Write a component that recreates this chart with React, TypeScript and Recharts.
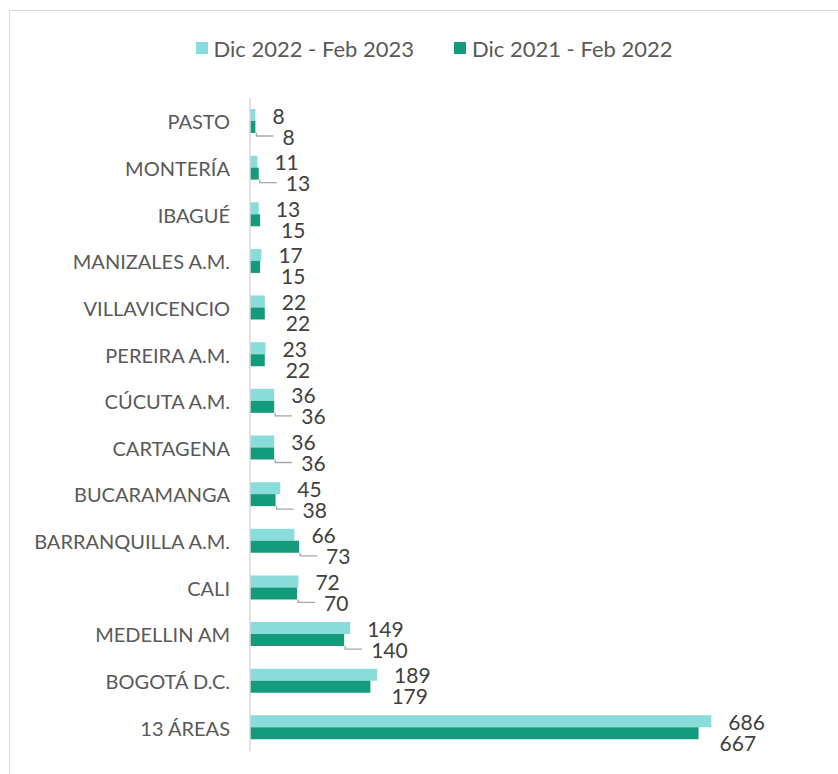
import { BarChart, Bar, XAxis, YAxis, Legend, LabelList } from "recharts";

const categories = [
  "PASTO",
  "MONTERÍA",
  "IBAGUÉ",
  "MANIZALES A.M.",
  "VILLAVICENCIO",
  "PEREIRA A.M.",
  "CÚCUTA A.M.",
  "CARTAGENA",
  "BUCARAMANGA",
  "BARRANQUILLA A.M.",
  "CALI",
  "MEDELLIN AM",
  "BOGOTÁ D.C.",
  "13 ÁREAS",
];
const recent = [8, 11, 13, 17, 22, 23, 36, 36, 45, 66, 72, 149, 189, 686];
const previous = [8, 13, 15, 15, 22, 22, 36, 36, 38, 73, 70, 140, 179, 667];
// dark labels that Excel pulled away from the bar (drawn with a leader line)
const leaderCats = [
  "PASTO",
  "MONTERÍA",
  "CÚCUTA A.M.",
  "CARTAGENA",
  "BUCARAMANGA",
  "BARRANQUILLA A.M.",
  "CALI",
  "MEDELLIN AM",
];

const recentName = "Dic 2022 - Feb 2023";
const previousName = "Dic 2021 - Feb 2022";
const LIGHT = "#88DCD9";
const DARK = "#149B7B";
const FONT = "Lato, 'Open Sans', sans-serif";

const data = categories.map((c, i) => ({
  area: c,
  recent: recent[i],
  previous: previous[i],
}));

const RecentLabel = (props: any) => {
  const { x, y, width, height, value } = props;
  return (
    <text
      x={x + width + 17}
      y={y + height / 2}
      dominantBaseline="central"
      fill="#404040"
      fontSize={21}
      fontFamily={FONT}
    >
      {value}
    </text>
  );
};

const PreviousLabel = (props: any) => {
  const { x, y, width, height, value, index } = props;
  const hasLeader = leaderCats.includes(categories[index]);
  const end = x + width;
  const lx = end + (hasLeader ? 27 : 21);
  const ly = y + height / 2 + 9;
  return (
    <g>
      {hasLeader && (
        <path
          d={`M${end + 1},${y + height} V${ly} H${lx - 9}`}
          stroke="#A6A6A6"
          strokeWidth={1.3}
          fill="none"
        />
      )}
      <text
        x={lx}
        y={ly}
        dominantBaseline="central"
        fill="#404040"
        fontSize={21}
        fontFamily={FONT}
      >
        {value}
      </text>
    </g>
  );
};

const CategoryTick = (props: any) => {
  const { x, y, payload } = props;
  return (
    <text
      x={x}
      y={y}
      textAnchor="end"
      dominantBaseline="central"
      fill="#595959"
      fontSize={20}
      fontFamily={FONT}
    >
      {payload.value}
    </text>
  );
};

const LegendContent = () => (
  <div
    style={{
      display: "flex",
      justifyContent: "center",
      alignItems: "center",
      fontFamily: FONT,
      fontSize: 22,
      color: "#595959",
      height: 30,
      paddingLeft: 30,
    }}
  >
    {[
      [recentName, LIGHT],
      [previousName, DARK],
    ].map(([name, color], i) => (
      <div
        key={name}
        style={{
          display: "flex",
          alignItems: "center",
          marginLeft: i ? 40 : 0,
        }}
      >
        <span
          style={{
            width: 12,
            height: 12,
            backgroundColor: color,
            marginRight: 6,
            display: "inline-block",
          }}
        />
        <span>{name}</span>
      </div>
    ))}
  </div>
);

export default function App() {
  return (
    <div
      style={{
        position: "absolute",
        left: 0,
        top: 0,
        width: 838,
        height: 774,
        background: "white",
        overflow: "hidden",
      }}
    >
      <div
        style={{
          position: "absolute",
          left: 9,
          top: 10,
          width: 900,
          height: 900,
          borderTop: "1.5px solid #D9D9D9",
          borderLeft: "1.5px solid #D9D9D9",
        }}
      />
      <BarChart
        width={838}
        height={774}
        data={data}
        layout="vertical"
        margin={{ top: 98, right: 50, bottom: 23, left: 0 }}
        barGap={0}
        barSize={12}
      >
        <XAxis type="number" domain={[0, 800]} hide />
        <YAxis
          type="category"
          dataKey="area"
          width={250}
          tickSize={0}
          tickMargin={20}
          tickLine={false}
          axisLine={{ stroke: "#D9D9D9", strokeWidth: 1.5 }}
          tick={<CategoryTick />}
          interval={0}
        />
        <Legend
          verticalAlign="middle"
          content={<LegendContent />}
          wrapperStyle={{ top: 33, left: 0, width: 838 }}
        />
        <Bar
          dataKey="recent"
          name={recentName}
          fill={LIGHT}
          isAnimationActive={false}
        >
          <LabelList dataKey="recent" content={<RecentLabel />} />
        </Bar>
        <Bar
          dataKey="previous"
          name={previousName}
          fill={DARK}
          isAnimationActive={false}
        >
          <LabelList dataKey="previous" content={<PreviousLabel />} />
        </Bar>
      </BarChart>
    </div>
  );
}
